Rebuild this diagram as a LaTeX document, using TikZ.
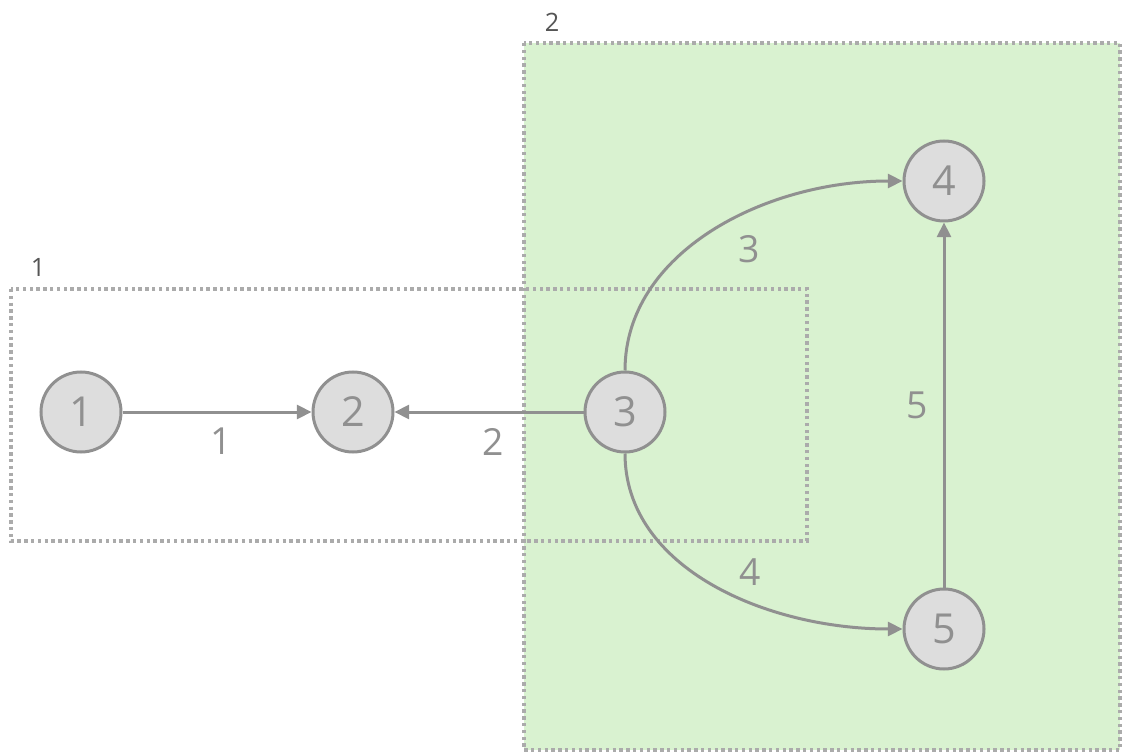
\documentclass[tikz,border=0pt]{standalone}
\usepackage{fontspec}
\setmainfont{Open Sans}
\usetikzlibrary{arrows.meta,positioning}
\definecolor{edgegray}{HTML}{909090}
\definecolor{nodefill}{HTML}{DDDDDD}
\definecolor{boxgray}{HTML}{ABABAB}
\definecolor{groupgreen}{HTML}{D9F2D0}
\definecolor{labelgray}{HTML}{555555}
\tikzset{
  statenode/.style={circle,draw=edgegray,fill=nodefill,line width=2.25pt,
    minimum size=60pt,inner sep=0pt,text=edgegray,font=\fontsize{31}{36}\selectfont},
  clusterbox/.style={draw=boxgray,line width=2.4pt,dash pattern=on 2.5pt off 2.6pt},
  clusterlabel/.style={text=labelgray,inner sep=0pt,font=\fontsize{19}{22}\selectfont},
  edgearrow/.style={-{Triangle[length=11pt,width=10.5pt]},draw=edgegray,line width=2.25pt},
  edgelabel/.style={text=edgegray,inner sep=2pt,font=\fontsize{28}{32}\selectfont}
}
\begin{document}
\begin{tikzpicture}[x=0.75pt,y=-0.75pt]
  \useasboundingbox (0,0) rectangle (1124,755);
  % clusters
  \fill[groupgreen] (524,43) rectangle (1120,750);
  \draw[clusterbox] (524,43) rectangle (1120,750);
  \draw[clusterbox] (11,289) rectangle (807,541);
  \node[clusterlabel] (cl1) at (38,267) {1};
  \node[clusterlabel] (cl2) at (552,22) {2};
  % states
  \node[statenode] (n1) at (81,412) {1};
  \node[statenode] (n2) at (353,412) {2};
  \node[statenode] (n3) at (625,412) {3};
  \node[statenode] (n4) at (944,181) {4};
  \node[statenode] (n5) at (944,629) {5};
  % transitions
  \draw[edgearrow] (n1) -- node[edgelabel,below=9pt,xshift=3pt] {1} (n2);
  \draw[edgearrow] (n3) -- node[edgelabel,below=9pt,xshift=3pt] {2} (n2);
  \draw[edgearrow] (n3) to[out=90,in=180,out looseness=0.9,in looseness=1.05]
    node[edgelabel,xshift=28pt,yshift=-13pt] {3} (n4);
  \draw[edgearrow] (n3) to[out=-90,in=180,out looseness=0.9,in looseness=1.05]
    node[edgelabel,xshift=28pt,yshift=9pt] {4} (n5);
  \draw[edgearrow] (n5) -- node[edgelabel,left=9pt] {5} (n4);
\end{tikzpicture}
\end{document}
